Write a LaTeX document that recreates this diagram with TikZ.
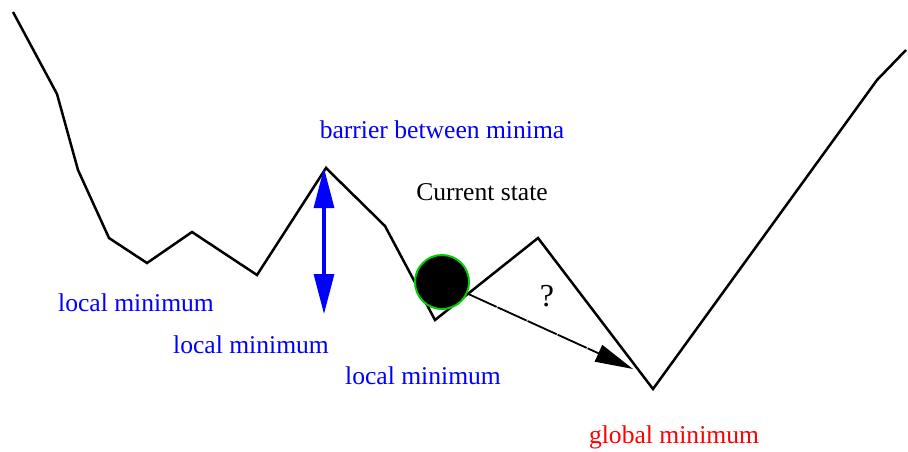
\documentclass[tikz,border=0pt]{standalone}
\usepackage{fontspec}
\setmainfont{Liberation Serif}
\usetikzlibrary{arrows.meta}
\definecolor{ballgreen}{rgb}{0,0.8,0}

\begin{document}
\begin{tikzpicture}[x=0.5pt,y=-0.5pt,font=\fontsize{12.8pt}{15pt}\selectfont,
  lbl/.style={inner sep=0pt, text=blue}]
\useasboundingbox (0,0) rectangle (908,451);
% energy landscape
\coordinate (peak) at (326,168);
\coordinate (gmin) at (653,389);
\draw[line width=1.25pt, line join=miter] (13,12)--(57,94)--(78,170)--(109,238)--(147,263)--(192,232)--(257,275)--(peak)--(385,226)--(435,320)--(538,238)--(gmin)--(877,80)--(906,50);
\node[lbl] (barrier) at (442,130) {barrier between minima};
\node[lbl] (lmin1) at (136,303) {local minimum};
\node[lbl] (lmin2) at (251,345) {local minimum};
\node[lbl] (lmin3) at (423,376) {local minimum};
\node[inner sep=0pt, text=red] (glob) at (674,437) {global minimum};
\node[inner sep=0pt] (cur) at (482,192) {Current state};
\node[inner sep=0pt, font=\fontsize{16pt}{18pt}\selectfont] (quest) at (547,296) {?};

% barrier height
\coordinate (bot) at (324,314);
\draw[blue, line width=1.6pt, {Triangle[length=20pt,width=10pt]}-{Triangle[length=20pt,width=10pt]}] ([xshift=-1pt]peak) -- (bot);

% current state and jump
\node[circle, fill=black, draw=ballgreen, line width=1pt, minimum size=27pt, inner sep=0pt] (ball) at (442,282) {};
\coordinate (tgt) at (633,369);
\draw[line width=0.9pt, dash pattern=on 16pt off 0.5pt, -{Triangle[length=19pt,width=9pt]}] (ball) -- (tgt);
\end{tikzpicture}
\end{document}
